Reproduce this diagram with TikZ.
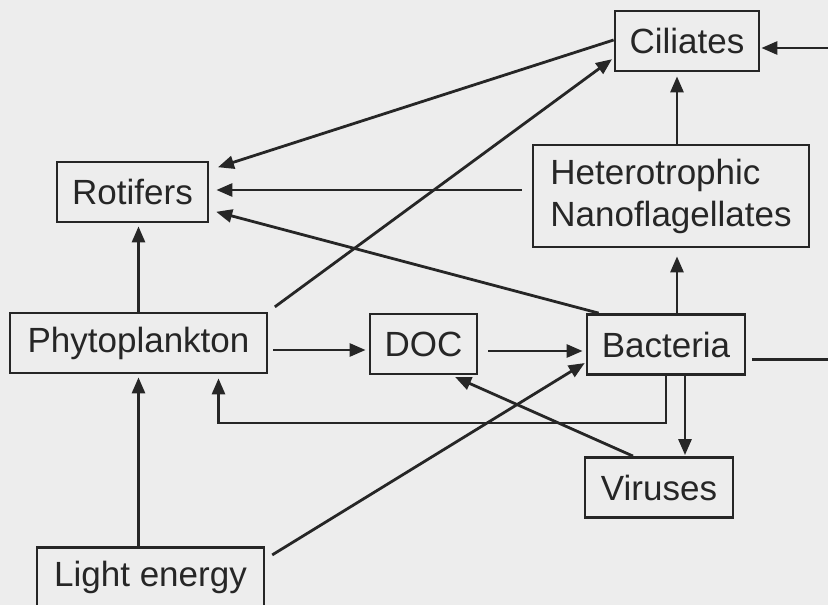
\documentclass[tikz,border=0pt]{standalone}
\usepackage{fontspec}
\setmainfont{Liberation Sans}
\definecolor{paper}{RGB}{237,237,237}
\definecolor{ink}{RGB}{38,38,38}
\usetikzlibrary{arrows.meta,positioning}

\begin{document}
\begin{tikzpicture}[x=1pt, y=-1pt,
    every node/.style={font=\fontsize{35}{42}\selectfont, text=ink},
    taxon/.style={draw=ink, line width=2.8pt, inner sep=0pt, minimum height=60pt, minimum width=#1},
    feed/.style={draw=ink, line width=2.8pt, -{Triangle[length=16pt, width=13pt]}, shorten >=3pt}]
    \clip (0,0) rectangle (828,605);
    \fill[paper] (0,0) rectangle (828,605);

    \node[taxon=144] (cil) at (687,41) {Ciliates};
    \node[taxon=276, minimum height=102pt, align=left] (hnf) at (671,196) {Heterotrophic\\Nanoflagellates};
    \node[taxon=151] (rot) at (132.5,192) {Rotifers};
    \node[taxon=257] (phy) at (138.5,343) {Phytoplankton};
    \node[taxon=107] (doc) at (423.5,344) {DOC};
    \node[taxon=158] (bac) at (666,344.5) {Bacteria};
    \node[taxon=148] (vir) at (659,487.5) {Viruses};
    \node[taxon=227] (lig) at (150.5,577.5) {Light energy};

    % carbon flow
    \draw[feed] (phy.north) -- (phy.north |- rot.south);
    \draw[feed] (phy.south |- lig.north) -- (phy.south);
    \draw[feed, shorten <=5pt] ([yshift=-7pt]phy.east) -- ([yshift=-7pt]phy.east -| doc.west);
    \draw[feed, shorten <=10pt] ([yshift=-7pt]doc.east) -- ([yshift=-7pt]doc.east -| bac.west);
    \draw[feed, shorten >=8pt] ([xshift=11pt]bac.north) -- ([xshift=11pt]bac.north |- hnf.south);
    \draw[feed, shorten >=4pt] ([xshift=6pt]hnf.north) -- ([xshift=6pt]hnf.north |- cil.south);
    \draw[feed, shorten >=9pt] ([yshift=1pt]cil.west) -- ([yshift=22pt]rot.east);
    \draw[feed, shorten <=10pt, shorten >=7pt] ([yshift=2pt]rot.east -| hnf.west) -- ([yshift=2pt]rot.east);
    \draw[feed, shorten >=7pt] ([xshift=13pt]bac.north west) -- ([yshift=-18pt]rot.east);
    \draw[feed, shorten <=8pt, shorten >=2pt] (phy.north east) -- ([yshift=-17pt]cil.west);
    \draw[feed, shorten <=8pt, shorten >=1pt] ([yshift=-13pt]lig.north east) -- ([yshift=-18pt]bac.west);
    \draw[feed, shorten >=4pt] (bac.south) -- ++(0,47) -| ([xshift=80pt]phy.south);
    \draw[feed, shorten >=1pt] ([xshift=19pt]bac.south) -- ([xshift=19pt]bac.south |- vir.north);
    \draw[feed, shorten >=4pt] ([xshift=-26pt]vir.north) -- ([xshift=28pt]doc.south);
    \draw[feed, shorten <=6pt, shorten >=1pt] ([yshift=-15pt]bac.east) -- ++(110,0) |- ([yshift=-7pt]cil.east);
\end{tikzpicture}
\end{document}
